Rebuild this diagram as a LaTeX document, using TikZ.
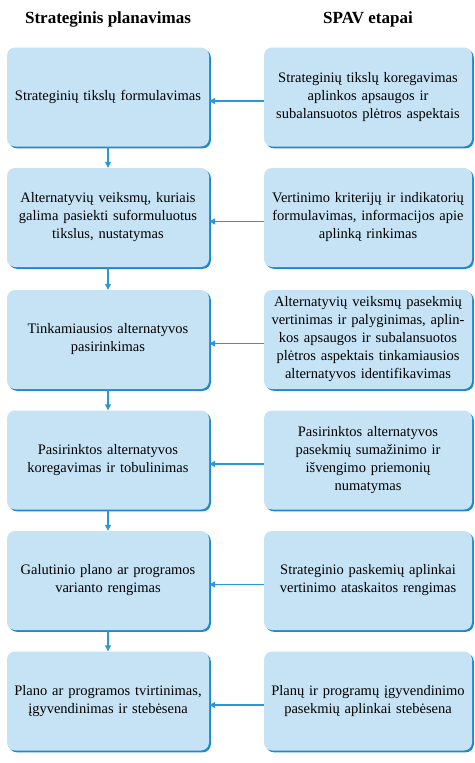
\documentclass[tikz,border=0pt]{standalone}
\usepackage{fontspec}
\setmainfont{Liberation Serif}
\usetikzlibrary{arrows.meta,shadows}
\definecolor{boxfill}{RGB}{198,227,246}
\definecolor{boxedge}{RGB}{30,136,204}
\definecolor{arrowblue}{RGB}{44,150,214}
\tikzset{
    stage/.style={fill=boxfill, rounded corners=8pt, minimum height=99pt, inner sep=0pt, align=center,
        font=\fontsize{14.5}{18}\selectfont,
        drop shadow={shadow xshift=1.8pt, shadow yshift=-1.8pt, fill=boxedge, opacity=1}},
    leftbox/.style={stage, minimum width=202pt, text width=198pt},
    rightbox/.style={stage, minimum width=208pt, text width=206pt},
    flow/.style={arrowblue, line width=1.2pt, -{Triangle[length=6pt,width=6pt]}},
    heading/.style={font=\fontsize{17}{20}\selectfont\bfseries}
}
\begin{document}
\begin{tikzpicture}[x=1pt,y=1pt]
    \useasboundingbox (0,0) rectangle (474,-763);
    \node[heading] (h1) at (108,-19) {Strateginis planavimas};
    \node[heading] (h2) at (368,-19) {SPAV etapai};
    \node[leftbox] (l1) at (108,-97) {Strateginių tikslų formulavimas};
    \node[leftbox] (l2) at (108,-217.5) {Alternatyvių veiksmų, kuriais\\ galima pasiekti suformuluotus\\ tikslus, nustatymas};
    \node[leftbox] (l3) at (108,-339.5) {Tinkamiausios alternatyvos\\ pasirinkimas};
    \node[leftbox] (l4) at (108,-460) {Pasirinktos alternatyvos\\ koregavimas ir tobulinimas};
    \node[leftbox] (l5) at (108,-580.5) {Galutinio plano ar programos\\ varianto rengimas};
    \node[leftbox] (l6) at (108,-701) {Plano ar programos tvirtinimas,\\ įgyvendinimas ir stebėsena};
    \node[rightbox] (r1) at (368,-97) {Strateginių tikslų koregavimas\\ aplinkos apsaugos ir\\ subalansuotos plėtros aspektais};
    \node[rightbox] (r2) at (368,-217.5) {Vertinimo kriterijų ir indikatorių\\ formulavimas, informacijos apie\\ aplinką rinkimas};
    \node[rightbox] (r3) at (368,-339.5) {Alternatyvių veiksmų pasekmių\\ vertinimas ir palyginimas, aplin-\\kos apsaugos ir subalansuotos\\ plėtros aspektais tinkamiausios\\ alternatyvos identifikavimas};
    \node[rightbox] (r4) at (368,-460) {Pasirinktos alternatyvos\\ pasekmių sumažinimo ir\\ išvengimo priemonių\\ numatymas};
    \node[rightbox] (r5) at (368,-580.5) {Strateginio paskemių aplinkai\\ vertinimo ataskaitos rengimas};
    \node[rightbox] (r6) at (368,-701) {Planų ir programų įgyvendinimo\\ pasekmių aplinkai stebėsena};
    \foreach \i [count=\j from 2] in {1,...,5}
        \draw[flow] (l\i) -- (l\j);
    \foreach \i in {1,...,6}
        \draw[flow] ([yshift=-4pt]r\i.west) -- ([yshift=-4pt]l\i.east);
\end{tikzpicture}
\end{document}
